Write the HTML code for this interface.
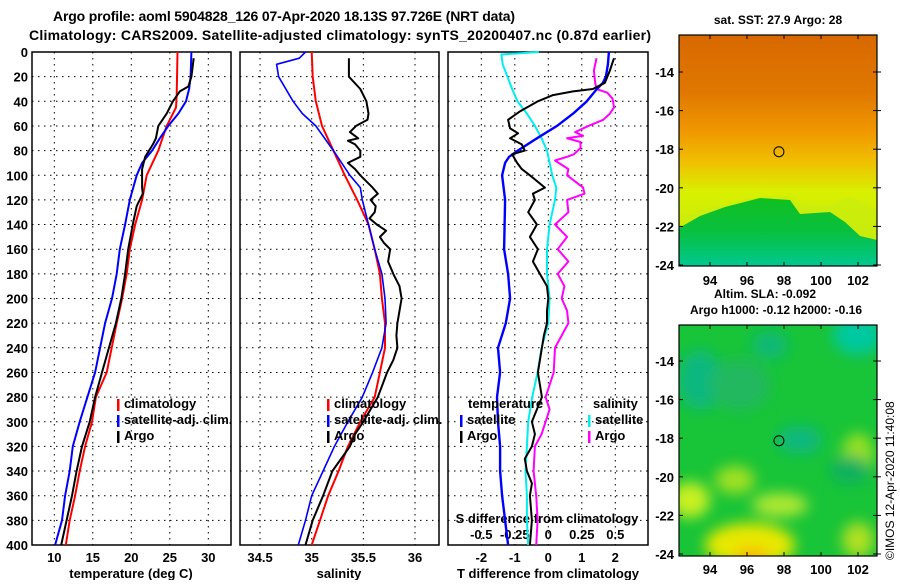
<!DOCTYPE html>
<html><head><meta charset="utf-8"><style>
body{margin:0;background:#fff}
svg text{font-family:"Liberation Sans",sans-serif;font-weight:bold;fill:#000}
</style></head><body>
<svg id="s" width="900" height="580" viewBox="0 0 900 580" xmlns="http://www.w3.org/2000/svg">
<defs>
<linearGradient id="sstg" x1="0" y1="0" x2="0" y2="1">
<stop offset="0" stop-color="#d86800"/><stop offset="0.25" stop-color="#e07800"/>
<stop offset="0.42" stop-color="#f09800"/><stop offset="0.55" stop-color="#f0c000"/>
<stop offset="0.68" stop-color="#d8f000"/><stop offset="1" stop-color="#c0e810"/>
</linearGradient>
<linearGradient id="sstb" x1="0" y1="0" x2="0" y2="1">
<stop offset="0" stop-color="#10c020"/><stop offset="0.5" stop-color="#08c040"/><stop offset="1" stop-color="#00c890"/>
</linearGradient>
<filter id="bl" x="-50%" y="-50%" width="200%" height="200%"><feGaussianBlur stdDeviation="7"/></filter>
<clipPath id="m2c"><rect x="679" y="325" width="198" height="231"/></clipPath>
</defs>
<text x="53" y="21" font-size="14" textLength="462">Argo profile: aoml 5904828_126 07-Apr-2020 18.13S 97.726E (NRT data)</text>
<text x="29" y="40" font-size="14" textLength="622">Climatology: CARS2009. Satellite-adjusted climatology: synTS_20200407.nc (0.87d earlier)</text>
<g id="g"></g>
</svg>
<script>
// ---- data ----
const tDepthClim=[0,35,45,55,60,80,100,120,140,160,180,200,220,260,280,300,320,340,360,380,400];
const tClim=[26.0,25.9,25.8,25.0,24.6,23.5,22.0,21.4,20.5,19.8,19.4,18.8,18.1,16.8,15.4,14.9,14.0,13.3,12.7,12.0,11.5];
const tDepthSat=[0,20,30,40,50,60,70,80,90,100,120,140,160,180,200,220,260,280,300,320,340,360,380,400];
const tSat=[27.8,27.7,27.5,27.1,26.1,24.8,23.7,22.7,21.4,20.7,19.8,19.2,18.5,18.1,17.5,16.6,15.3,14.3,13.3,12.4,12.0,11.4,11.0,10.1];
const tDepthArgo=[5,20,28,32,40,50,60,70,75,85,95,110,115,125,140,160,180,200,220,260,280,300,320,340,360,380,400];
const tArgo=[28.1,27.8,27.4,26.3,25.4,24.6,23.5,23.2,22.8,21.8,21.4,21.4,21.5,20.7,20.2,19.6,19.2,18.7,18.0,16.2,15.3,14.6,13.6,12.9,12.3,11.6,10.9];
const sDepthClim=[0,20,40,60,80,100,120,140,160,180,200,220,240,260,280,300,320,340,360,380,400];
const sClim=[35.00,35.01,35.04,35.10,35.21,35.32,35.44,35.55,35.61,35.66,35.68,35.71,35.71,35.66,35.61,35.47,35.35,35.26,35.16,35.08,35.00];
const sDepthSat=[0,5,10,20,40,50,60,80,100,110,120,140,160,180,200,220,240,260,280,300,320,340,360,380,400];
const sSat=[34.94,34.88,34.66,34.68,34.82,34.91,35.04,35.21,35.37,35.47,35.49,35.55,35.61,35.68,35.71,35.72,35.68,35.59,35.49,35.35,35.22,35.11,35.00,34.94,34.87];
const sDepthArgo=[5,20,30,40,50,55,60,65,70,72,75,80,85,90,95,100,110,115,120,125,130,135,140,145,150,155,160,170,180,190,200,210,220,230,240,250,260,280,300,310,320,340,360,380,400];
const sArgo=[35.36,35.36,35.47,35.53,35.55,35.54,35.43,35.37,35.45,35.35,35.42,35.47,35.47,35.35,35.42,35.47,35.59,35.64,35.57,35.62,35.61,35.56,35.63,35.72,35.66,35.70,35.76,35.74,35.79,35.85,35.87,35.85,35.83,35.82,35.83,35.79,35.73,35.64,35.50,35.42,35.37,35.20,35.11,35.01,34.94];
const dtDepthSat=[0,10,20,25,30,40,50,60,70,80,85,90,100,120,160,180,200,220,240,260,280,300,320,340,360,380,400];
const dtSat=[1.81,1.78,1.72,1.63,1.45,1.15,0.74,0.26,-0.34,-0.91,-1.17,-1.29,-1.38,-1.29,-1.32,-1.2,-1.14,-1.27,-1.5,-1.44,-1.53,-1.5,-1.44,-1.44,-1.38,-1.29,-1.2];
const dtDepthArgo=[5,15,25,30,32,35,40,48,55,62,66,70,75,80,83,90,95,100,110,115,120,130,140,150,160,170,180,190,200,210,220,230,240,250,260,270,280,290,300,310,320,330,340,350,360,380,400];
const dtArgo=[1.96,1.84,1.69,1.33,0.74,0.14,-0.31,-0.84,-1.2,-1.14,-0.9,-1.14,-0.79,-0.7,-1.08,-0.93,-0.79,-0.55,-0.1,-0.46,-0.4,-0.6,-0.34,-0.55,-0.31,-0.46,-0.25,-0.04,0,-0.04,-0.04,-0.13,-0.19,-0.25,-0.31,-0.25,-0.19,-0.34,-0.49,-0.4,-0.49,-0.7,-0.64,-0.49,-0.55,-0.49,-0.55];
const dsDepthSat=[0,2,10,30,40,50,60,70,80,100,110,120,140,160,180,200,220,240,260,280,300,320,340,360,380,400];
const dsSat=[-0.07,-0.35,-0.34,-0.27,-0.23,-0.16,-0.1,-0.05,-0.01,0.03,0.06,0.05,0.01,-0.01,-0.01,0.01,0,-0.05,-0.08,-0.12,-0.15,-0.16,-0.17,-0.16,-0.16,-0.15];
const dsDepthArgo=[5,15,25,30,33,38,45,50,55,60,65,68,70,73,78,83,85,88,95,100,110,115,120,130,140,150,160,170,180,190,200,210,220,230,240,260,280,290,300,310,320,340,360,380,400];
const dsArgo=[0.36,0.34,0.35,0.36,0.44,0.48,0.49,0.46,0.41,0.3,0.2,0.26,0.14,0.24,0.24,0.19,0.14,0.05,0.15,0.14,0.26,0.27,0.14,0.15,0.05,0.14,0.07,0.15,0.07,0.12,0.1,0.14,0.15,0.1,0.05,0.04,-0.02,0.01,-0.02,-0.05,-0.1,-0.11,-0.09,-0.08,-0.09];
const depthTicks=[0,20,40,60,80,100,120,140,160,180,200,220,240,260,280,300,320,340,360,380,400];
const tTicks=[10,15,20,25,30];
const sTicks=[34.5,35,35.5,36];
const dtTicks=[-2,-1,0,1,2];
const dsTickLabels=["-0.5","-0.25","0","0.25","0.5"];
const lonTicks=[94,96,98,100,102];
const latTicks=[-14,-16,-18,-20,-22,-24];
const argoLon=97.726, argoLat=-18.13;

// ---- scales ----
const y=d=>52+d*1.2325;
const xT=v=>54.3+(v-10)*7.7;
const xS=v=>311.7+(v-35)*103.3;
const xDT=v=>548.3+v*33.5;
const xDS=v=>548.3+v*134;
const mX=lon=>710+(lon-94)*18.5;
const m1Y=lat=>72+(-14-lat)*19.3;
const m2Y=lat=>361+(-14-lat)*19.3;

const NS="http://www.w3.org/2000/svg";
const G=document.getElementById('g');
function mk(tag,at,parent){const e=document.createElementNS(NS,tag);for(const k in at)e.setAttribute(k,at[k]);(parent||G).appendChild(e);return e;}
function txt(str,x,yy,anchor,size){const e=mk('text',{x:x,y:yy,'text-anchor':anchor||'start','font-size':size||13});e.textContent=str;return e;}

const panels=[{x0:32,x1:231},{x0:240,x1:439},{x0:448,x1:648}];
panels.forEach((p,i)=>{
  const fr=mk('rect',{x:p.x0,y:52,width:p.x1-p.x0,height:493,fill:'none',stroke:'#000','stroke-width':1.5});
  
  
  depthTicks.forEach(d=>{
    if(d>0&&d<400){const l=mk('line',{x1:p.x0,x2:p.x1,y1:y(d),y2:y(d),stroke:'#000','stroke-dasharray':'1.5,4.5'});
    
    }
  });
});
tTicks.forEach(v=>{const l=mk('line',{x1:xT(v),x2:xT(v),y1:52,y2:545,stroke:'#000','stroke-dasharray':'1.5,4.5'});
  
  const t=txt(String(v),xT(v),562,'middle');});
sTicks.forEach(v=>{const l=mk('line',{x1:xS(v),x2:xS(v),y1:52,y2:545,stroke:'#000','stroke-dasharray':'1.5,4.5'});
  
  const t=txt(String(v),xS(v),562,'middle');});
dtTicks.forEach((v,i)=>{const l=mk('line',{x1:xDT(v),x2:xDT(v),y1:52,y2:545,stroke:'#000','stroke-dasharray':'1.5,4.5'});
  
  const t=txt(String(v),xDT(v),562,'middle');
  const u=txt(dsTickLabels[i],xDT(v),539,'middle');});
depthTicks.forEach(d=>{const t=txt(String(d),28,y(d)+5,'end');});

let a;
a=txt('temperature (deg C)',131,578,'middle');
a=txt('salinity',339,578,'middle');
a=txt('T difference from climatology',548,578,'middle');
a=txt('S difference from climatology',547,523,'middle');

function line(ds,vs,sx,color,w,name){
  const pts=ds.map((d,i)=>sx(vs[i]).toFixed(1)+','+y(d).toFixed(1)).join(' ');
  const e=mk('polyline',{points:pts,fill:'none',stroke:color,'stroke-width':w,'stroke-linejoin':'round'});
  
  
}
line(tDepthClim,tClim,xT,'#f00',2,'temp-climatology-line');
line(tDepthSat,tSat,xT,'#00f',2,'temp-satellite-line');
line(tDepthArgo,tArgo,xT,'#000',2,'temp-argo-line');
line(sDepthClim,sClim,xS,'#f00',2,'sal-climatology-line');
line(sDepthSat,sSat,xS,'#00f',1.6,'sal-satellite-line');
line(sDepthArgo,sArgo,xS,'#000',2,'sal-argo-line');
line(dsDepthSat,dsSat,xDS,'#0ee',2,'sdiff-satellite-line');
line(dsDepthArgo,dsArgo,xDS,'#f0f',2,'sdiff-argo-line');
line(dtDepthSat,dtSat,xDT,'#00f',2.4,'tdiff-satellite-line');
line(dtDepthArgo,dtArgo,xDT,'#000',2,'tdiff-argo-line');

function leg(x,yy,color,label,name){
  const r=mk('rect',{x:x,y:yy-9,width:2.5,height:12,fill:color});
  
  const t=txt(label,x+7,yy,'start');
}
leg(117,408,'#f00','climatology','legend-climatology');
leg(117,424,'#00f','satellite-adj. clim.','legend-satellite-adj');
leg(117,440,'#000','Argo','legend-argo');
leg(327,408,'#f00','climatology','legend2-climatology');
leg(327,424,'#00f','satellite-adj. clim.','legend2-satellite-adj');
leg(327,440,'#000','Argo','legend2-argo');
a=txt('temperature',468,408);
leg(460,424,'#00f','satellite','legend-t-satellite');
leg(460,440,'#000','Argo','legend-t-argo');
a=txt('salinity',593,408);
leg(588,424,'#0ee','satellite','legend-s-satellite');
leg(588,440,'#f0f','Argo','legend-s-argo');

// ---- maps ----
const m1=mk('g',{});
mk('rect',{x:679,y:35,width:198,height:231,fill:'url(#sstg)'},m1);
mk('path',{d:'M679,218 L700,210 L730,203 L760,196 L790,196 L800,204 L830,205 L850,196 L877,210 L877,240 L860,236 L840,216 L820,218 L800,218 L790,201 L760,201 L730,206 L700,218 Z',fill:'#c8ec10',opacity:0.6},m1);
mk('path',{d:'M679,228 L700,216 L725,207 L760,198 L790,200 L800,214 L830,212 L845,222 L860,236 L877,240 L877,266 L679,266 Z',fill:'url(#sstb)'},m1);
mk('rect',{x:679,y:35,width:198,height:231,fill:'none',stroke:'#000','stroke-width':1.2},m1);
a=txt('sat. SST: 27.9 Argo: 28',778,24,'middle',12);
a=txt('Altim. SLA: -0.092',765,298,'middle',12);
a=txt('Argo h1000: -0.12 h2000: -0.16',776,314,'middle',12);

const m2=mk('g',{});
mk('rect',{x:679,y:325,width:198,height:231,fill:'#18c438'},m2);
const blobs=mk('g',{'clip-path':'url(#m2c)'},m2);
const bl=mk('g',{filter:'url(#bl)'},blobs);
[[700,380,22,30,'#10b880'],[770,345,18,14,'#10b878'],[858,335,25,20,'#00c8a0'],[800,440,22,14,'#10b880'],
 [740,385,30,25,'#20b860'],[690,500,20,18,'#c8f020'],[735,480,20,14,'#a0e020'],[780,505,28,12,'#b0e830'],
 [750,545,45,22,'#e8e800'],[752,560,18,12,'#f8b800'],[858,455,16,22,'#98e020'],[858,540,16,18,'#b0e020'],[860,580,25,10,'#d0e000'],[850,470,20,14,'#10b060']]
 .forEach(b=>mk('ellipse',{cx:b[0],cy:b[1],rx:b[2],ry:b[3],fill:b[4]},bl));
mk('rect',{x:679,y:325,width:198,height:231,fill:'none',stroke:'#000','stroke-width':1.2},m2);

[[m1Y,35,266,285],[m2Y,325,556,574]].forEach(([fy,top,bot,ly])=>{
  lonTicks.forEach(l=>{
    mk('line',{x1:mX(l),x2:mX(l),y1:top,y2:top+4,stroke:'#000'});
    mk('line',{x1:mX(l),x2:mX(l),y1:bot,y2:bot-4,stroke:'#000'});
    const t=txt(String(l),mX(l),ly,'middle');
  });
  latTicks.forEach(l=>{
    mk('line',{x1:679,x2:683,y1:fy(l),y2:fy(l),stroke:'#000'});
    mk('line',{x1:873,x2:881,y1:fy(l),y2:fy(l),stroke:'#000'});
    const t=txt(String(l),674,fy(l)+5,'end');
  });
});
a=mk('circle',{cx:mX(argoLon),cy:m1Y(argoLat),r:5,fill:'none',stroke:'#000'});
a=mk('circle',{cx:mX(argoLon),cy:m2Y(argoLat),r:5,fill:'none',stroke:'#000'});
a=mk('text',{x:0,y:0,'font-size':12,transform:'translate(894,560) rotate(-90)'});
a.textContent='©IMOS 12-Apr-2020 11:40:08';


a.setAttribute('style','font-weight:normal');
</script>
</body></html>
